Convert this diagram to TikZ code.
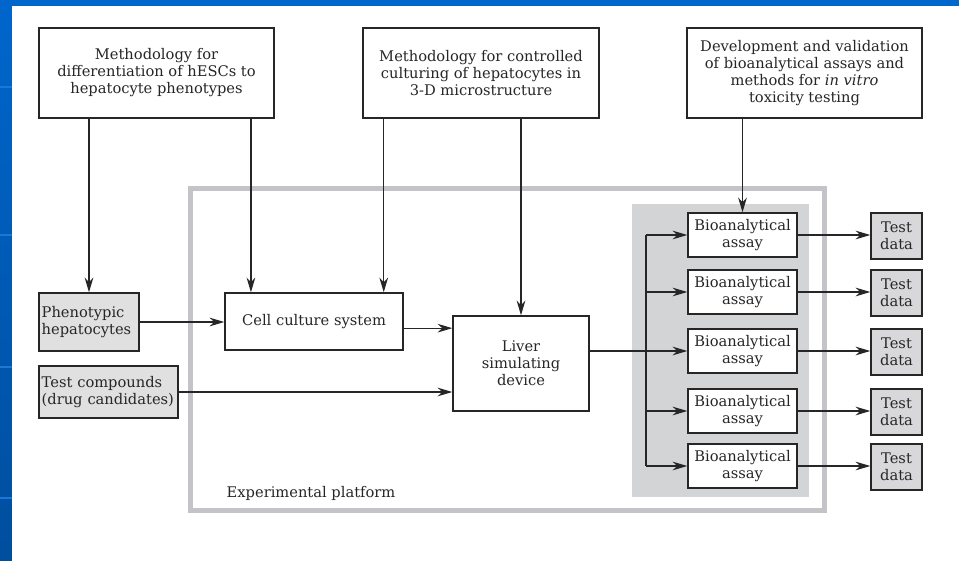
\documentclass[tikz,border=0pt]{standalone}
\usepackage{fontspec}
\setmainfont{DejaVu Serif}
\usetikzlibrary{arrows.meta,calc}

\definecolor{slideblue}{HTML}{0066CC}
\definecolor{slidedark}{HTML}{004E9E}
\definecolor{slideline}{HTML}{1C78D4}
\definecolor{inkgray}{HTML}{262626}
\definecolor{rimgray}{HTML}{C3C4C7}
\definecolor{panelgray}{HTML}{D3D4D6}
\definecolor{boxgray}{HTML}{E0E0E0}
\definecolor{datagray}{HTML}{D8D8DA}

\tikzset{
  txt/.style={text=inkgray, font=\fontsize{11}{12.75}\selectfont},
  box/.style={txt, draw=inkgray, line width=1.1pt, fill=white, align=center, inner sep=2pt},
  inbox/.style={txt, draw=inkgray, line width=1.1pt, fill=boxgray, align=left, inner sep=2pt},
  outbox/.style={box, fill=datagray, minimum width=38.25pt, minimum height=34.5pt},
  wire/.style={draw=inkgray, line width=0.9pt},
  rim/.style={draw=rimgray, line width=3.75pt}
}

\begin{document}
\begin{tikzpicture}[x=0.75pt, y=-0.75pt, >={Stealth[length=11pt,width=6.5pt,inset=3.5pt]}]
  % Slide background
  \useasboundingbox (0,0) rectangle (959,560);
  \shade[top color=slideblue, bottom color=slidedark] (0,0) rectangle (959,560);
  \foreach \yy in {87,235,367,498}
    \fill[slideline] (0,\yy-1) rectangle (12,\yy+1);
  \fill[white] (12,6) rectangle (970,570);

  % Experimental platform
  \draw[rim] (190.5,188.5) rectangle (824.5,510);
  \fill[panelgray] (632,204) rectangle (809,497);
  \node[txt, anchor=west] (plat) at (222,493) {Experimental platform};

  % Methodology boxes
  \node[box, minimum width=176.25pt, minimum height=67.5pt] (diff) at (156.5,73)
    {Methodology for\\differentiation of hESCs to\\hepatocyte phenotypes};
  \node[box, minimum width=177pt, minimum height=67.5pt] (cult) at (481,73)
    {Methodology for controlled\\culturing of hepatocytes in\\3-D microstructure};
  \node[box, minimum width=176.25pt, minimum height=67.5pt] (valid) at (804.5,73)
    {Development and validation\\of bioanalytical assays and\\methods for \textit{in vitro}\\toxicity testing};

  % Inputs
  \node[inbox, text width=71pt, minimum height=43.5pt] (pheno) at (89,322) {Phenotypic\\hepatocytes};
  \node[inbox, text width=100.25pt, minimum height=39pt] (comp) at (108.5,392) {Test compounds\\(drug candidates)};

  % Platform contents
  \node[box, minimum width=133.5pt, minimum height=42.75pt] (cell) at (314,321.5) {Cell culture system};
  \node[box, minimum width=102pt, minimum height=71.25pt] (liver) at (521,363.5) {Liver\\simulating\\device};
  \foreach \i/\yy in {1/235,2/292,3/351,4/411,5/466} {
    \node[box, minimum width=81.75pt, minimum height=33pt] (assay\i) at (742.5,\yy) {Bioanalytical\\assay};
    \node[outbox] (data\i) at (896.5,\yy+1) {Test\\data};
  }

  % Connectors
  \coordinate (bus) at (646,0);
  \coordinate (c1) at ([xshift=20pt]cell.north west);
  \coordinate (c2) at ([xshift=-15pt]cell.north east);
  \draw[wire, ->] (diff.south -| pheno.north) -- (pheno.north);
  \draw[wire, ->] (diff.south -| c1) -- (c1);
  \draw[wire, ->] (cult.south -| c2) -- (c2);
  \draw[wire, ->] (cult.south -| liver.north) -- (liver.north);
  \draw[wire, ->] (valid.south -| assay1.north) -- (assay1.north);
  \draw[wire, ->] (pheno.east) -- (pheno.east -| cell.west);
  \draw[wire, ->] ([yshift=-5pt]cell.east) -- ([yshift=-5pt]cell.east -| liver.west);
  \draw[wire, ->] (comp.east) -- (comp.east -| liver.west);
  \draw[wire] (liver.east |- assay3.west) -- (assay3.west -| bus);
  \draw[wire] (assay1.west -| bus) -- (assay5.west -| bus);
  \foreach \i in {1,...,5} {
    \draw[wire, ->] (assay\i.west -| bus) -- (assay\i.west);
    \draw[wire, ->] (assay\i.east) -- (assay\i.east -| data\i.west);
  }
\end{tikzpicture}
\end{document}
